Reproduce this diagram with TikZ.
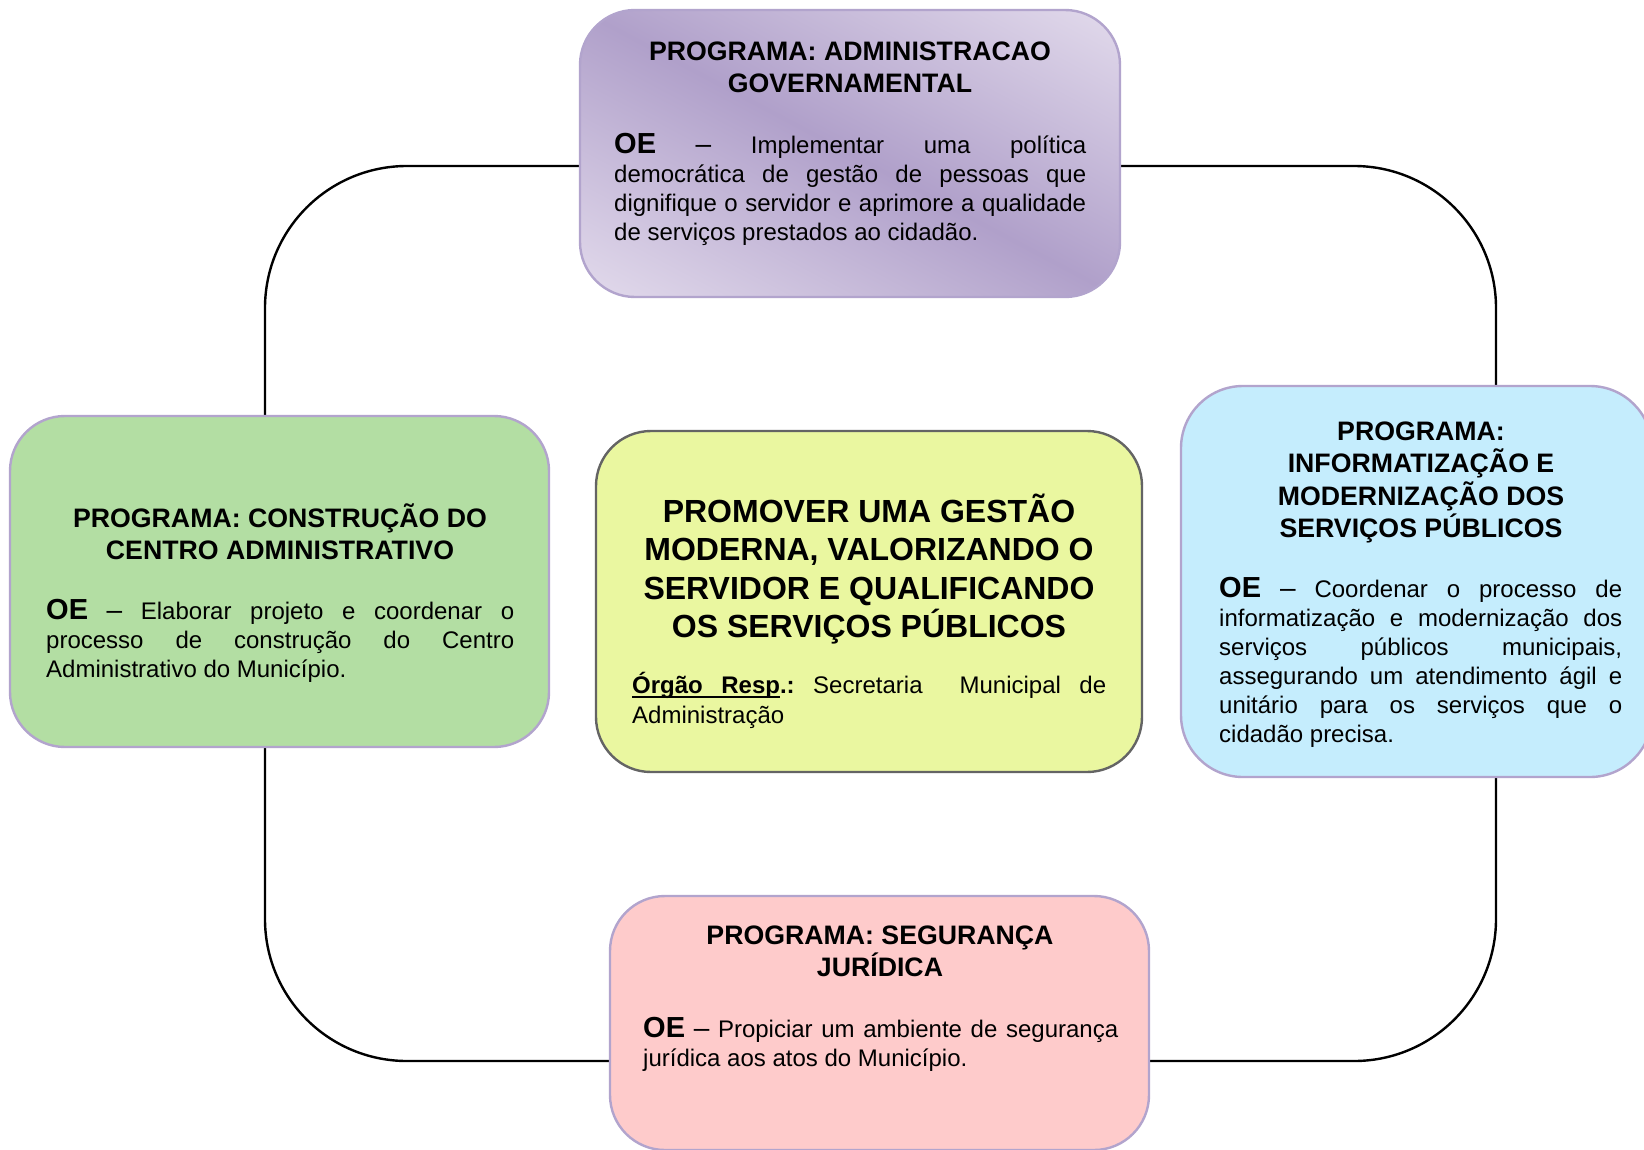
\documentclass[tikz,border=0pt]{standalone}
\usepackage{fontspec}
\setmainfont{Liberation Sans}
\hbadness=10000
\hfuzz=6pt
\definecolor{boxline}{RGB}{178,164,205}
\definecolor{midline}{RGB}{100,100,100}
\definecolor{cgreen}{RGB}{179,222,163}
\definecolor{cyellow}{RGB}{234,247,160}
\definecolor{cblue}{RGB}{197,237,253}
\definecolor{cpink}{RGB}{254,203,203}
\definecolor{plight}{RGB}{231,224,239}
\definecolor{pdark}{RGB}{176,160,202}
\pgfdeclarehorizontalshading{purpleband}{100bp}{color(0bp)=(plight); color(13bp)=(plight); color(50bp)=(pdark); color(87bp)=(plight); color(100bp)=(plight)}
\newcommand\bodyfont{\fontsize{24}{29}\selectfont}
\newcommand\ttlfont{\fontsize{26.7}{32.5}\selectfont\bfseries}
\newcommand\fstrut[1]{\rule{0pt}{#1pt}}
\newcommand\OEtag{{\fontsize{29}{29}\selectfont\bfseries OE}}
\newcommand\OEdash{{\fontsize{28}{29}\selectfont –}}
\newsavebox\ulbox
\newcommand\myul[1]{\sbox\ulbox{#1}\rlap{\rule[-5pt]{\wd\ulbox}{2.5pt}}\usebox\ulbox}
\tikzset{
  box/.style={draw=boxline, line width=2.4pt, rounded corners=55pt, inner sep=0pt},
  ring/.style={draw=black, line width=2.4pt, rounded corners=142pt},
  txt/.style={anchor=north west, inner sep=0pt, align=justify, font=\bodyfont},
  ttl/.style={anchor=north, inner sep=0pt, align=center, font=\ttlfont},
}
\begin{document}
\begin{tikzpicture}[x=1pt,y=-1pt]
\useasboundingbox (0,0) rectangle (1644,1149);
\clip (0,0) rectangle (1644,1149);
\fill[white] (0,0) rectangle (1644,1149);
% ring
\coordinate (ringA) at (265,166);
\coordinate (ringB) at (1496,1061);
\draw[ring] (ringA) rectangle (ringB);
% boxes
\node[box, shading=purpleband, shading angle=62, minimum width=540pt, minimum height=287pt] (adm) at (850,153.5) {};
\node[box, fill=cgreen, minimum width=539pt, minimum height=331pt] (constr) at (279.5,581.5) {};
\node[box, draw=midline, fill=cyellow, minimum width=546pt, minimum height=341pt] (center) at (869,601.5) {};
\node[box, fill=cblue, rounded corners=62pt, minimum width=471pt, minimum height=391pt] (info) at (1416.5,581.5) {};
\node[box, fill=cpink, minimum width=539pt, minimum height=254pt] (seg) at (879.5,1023) {};
% top box texts
\node[ttl] (admT) at (850,30) {\fstrut{30}PROGRAMA: ADMINISTRACAO\\GOVERNAMENTAL};
\node[txt, text width=472pt] (admB) at (614,123) {\fstrut{30}\OEtag{} \OEdash{} Implementar uma política \linebreak democrática de gestão de pessoas que \linebreak dignifique o servidor e aprimore a qualidade \linebreak de serviços prestados ao cidadão.};
% left box texts
\node[ttl] (constrT) at (280,497) {\fstrut{30}PROGRAMA: CONSTRUÇÃO DO\\CENTRO ADMINISTRATIVO};
\node[txt, text width=468pt] (constrB) at (46,589) {\fstrut{30}\OEtag{} \OEdash{} Elaborar projeto e coordenar o \linebreak processo de construção do Centro \linebreak Administrativo do Município.};
% center box texts
\node[ttl, font=\fontsize{32}{38.5}\selectfont\bfseries] (centerT) at (869,482) {\fstrut{40}PROMOVER UMA GESTÃO\\MODERNA, VALORIZANDO O\\SERVIDOR E QUALIFICANDO\\OS SERVIÇOS PÚBLICOS};
\node[txt, text width=474pt, font=\fontsize{24}{30.5}\selectfont] (centerB) at (632,663) {\noindent\hbox to 474pt{\fstrut{30}\myul{\textbf{Órgão}}\leaders\hrule height -2.5pt depth 5pt\hskip 0pt plus 1fil\myul{\textbf{Resp}}\textbf{.:}\hskip 0pt plus 1fil Secretaria\hskip 0pt plus 2fil Municipal\hskip 0pt plus 1fil de}\par\noindent Administração};
% right box texts
\node[ttl] (infoT) at (1421,410) {\fstrut{30}PROGRAMA:\\INFORMATIZAÇÃO E\\MODERNIZAÇÃO DOS\\SERVIÇOS PÚBLICOS};
\node[txt, text width=403pt] (infoB) at (1219,567) {\fstrut{30}\OEtag{} \OEdash{} Coordenar o processo de \linebreak informatização e modernização dos \linebreak serviços públicos municipais, \linebreak assegurando um atendimento ágil e \linebreak unitário para os serviços que o \linebreak cidadão precisa.};
% bottom box texts
\node[ttl] (segT) at (880,914) {\fstrut{30}PROGRAMA: SEGURANÇA\\JURÍDICA};
\node[txt, text width=475pt] (segB) at (643,1007) {\fstrut{30}\OEtag{} \OEdash{} Propiciar um ambiente de segurança \linebreak jurídica aos atos do Município.};
\end{tikzpicture}
\end{document}
